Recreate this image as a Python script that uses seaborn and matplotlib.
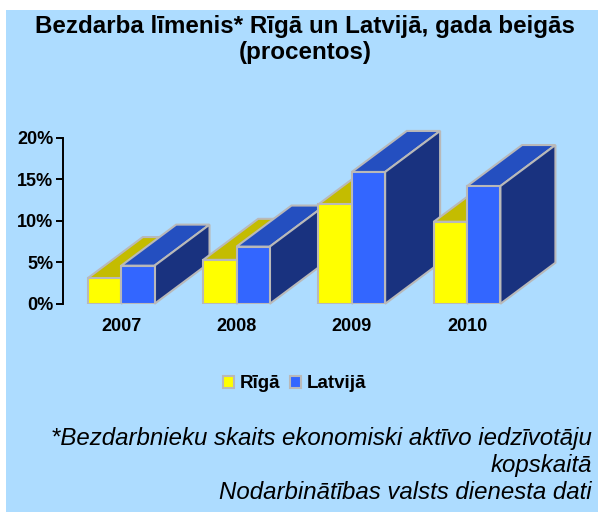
import matplotlib
matplotlib.use("Agg")
import matplotlib.pyplot as plt
from matplotlib.patches import Patch, Rectangle
import pandas as pd
import seaborn as sns

years = ["2007", "2008", "2009", "2010"]
riga = [3.1, 5.3, 12.0, 9.9]
latvija = [4.6, 6.9, 15.9, 14.2]
series_names = ["Rīgā", "Latvijā"]
y_ticks = [0, 5, 10, 15, 20]
y_tick_labels = ["0%", "5%", "10%", "15%", "20%"]
title_text = "Bezdarba līmenis* Rīgā un Latvijā, gada beigās\n(procentos)"
note_lines = ["*Bezdarbnieku skaits ekonomiski aktīvo iedzīvotāju", "kopskaitā",
              "Nodarbinātības valsts dienesta dati"]

W, H = 598, 512
BG = "#addcff"
EDGE = "#b9b9b9"
FRONT = ["#ffff00", "#3366ff"]
TOP = ["#c4bc00", "#244fc0"]
SIDE = ["#8f8a00", "#19327f"]
FONT = "Liberation Sans"
LW = 1.5

sns.set_style("ticks")
plt.rcParams["font.family"] = [FONT, "DejaVu Sans"]

fig = plt.figure(figsize=(W / 100, H / 100), dpi=100, facecolor="white")
fig.add_artist(Rectangle((6 / W, 0), (W - 6) / W, (H - 10) / H, transform=fig.transFigure,
                         facecolor=BG, edgecolor="none", zorder=-10))

ax_left, ax_right, ax_top, ax_bottom = 63.0, 590, 138.0, 303.8
ax = fig.add_axes([ax_left / W, (H - ax_bottom) / H, (ax_right - ax_left) / W, (ax_bottom - ax_top) / H])
ax.patch.set_alpha(0)

df = pd.DataFrame({
    "year": years * 2,
    "value": riga + latvija,
    "series": [series_names[0]] * 4 + [series_names[1]] * 4,
})
sns.barplot(data=df, x="year", y="value", hue="series", hue_order=series_names,
            palette=FRONT, saturation=1, width=0.578, gap=0, legend=False,
            edgecolor=EDGE, linewidth=LW, ax=ax)

spacing = 115.3
center0 = 121.2
ax.set_xlim((ax_left - center0) / spacing, (ax_right - center0) / spacing)
ax.set_ylim(0, 20)

depth_x = 55 / spacing
depth_y = 41 / 8.28

for s, container in enumerate(ax.containers):
    for k, bar in enumerate(container.patches):
        z = 3 + 4 * k + 2 * s
        bar.set_zorder(z + 1)
        bar.set_joinstyle("miter")
        x0, x1 = bar.get_x(), bar.get_x() + bar.get_width()
        h = bar.get_height()
        ax.fill([x0, x0 + depth_x, x1 + depth_x, x1], [h, h + depth_y, h + depth_y, h],
                facecolor=TOP[s], edgecolor=EDGE, linewidth=LW, clip_on=False, zorder=z, joinstyle="miter")
        ax.fill([x1, x1 + depth_x, x1 + depth_x, x1], [0, depth_y, h + depth_y, h],
                facecolor=SIDE[s], edgecolor=EDGE, linewidth=LW, clip_on=False, zorder=z, joinstyle="miter")

for side in ["top", "right", "bottom"]:
    ax.spines[side].set_visible(False)
ax.spines["left"].set_linewidth(1.4)
ax.spines["left"].set_color("black")
ax.spines["left"].set_zorder(50)
ax.set_yticks(y_ticks, y_tick_labels, fontsize=13, fontweight="bold", color="black")
ax.tick_params(axis="y", length=5, width=1.4, pad=2, color="black")
ax.tick_params(axis="x", length=0, pad=10.5)
for label in ax.get_xticklabels():
    label.set_fontsize(13)
    label.set_fontweight("bold")
    label.set_color("black")
ax.set_xlabel("")
ax.set_ylabel("")

fig.text(305 / W, 1 - 39.5 / H, title_text, ha="center", va="center", fontsize=17.35,
         fontweight="bold", color="black", linespacing=1.2)

handles = [Patch(facecolor=FRONT[i], edgecolor=EDGE, linewidth=LW, label=series_names[i]) for i in range(2)]
fig.legend(handles=handles, ncols=2, loc="center", bbox_to_anchor=(294.5 / W, 1 - 384 / H), frameon=False,
           prop={"family": FONT, "weight": "bold", "size": 13.5}, handlelength=0.6, handleheight=0.6,
           handletextpad=0.3, columnspacing=0.5, borderpad=0, labelcolor="black")

for text, y in zip(note_lines, [439, 465.5, 492.5]):
    fig.text(592 / W, 1 - y / H, text, ha="right", va="center", fontsize=17.3, style="italic", color="black")

fig.savefig("out.png", dpi=100, facecolor="white")
